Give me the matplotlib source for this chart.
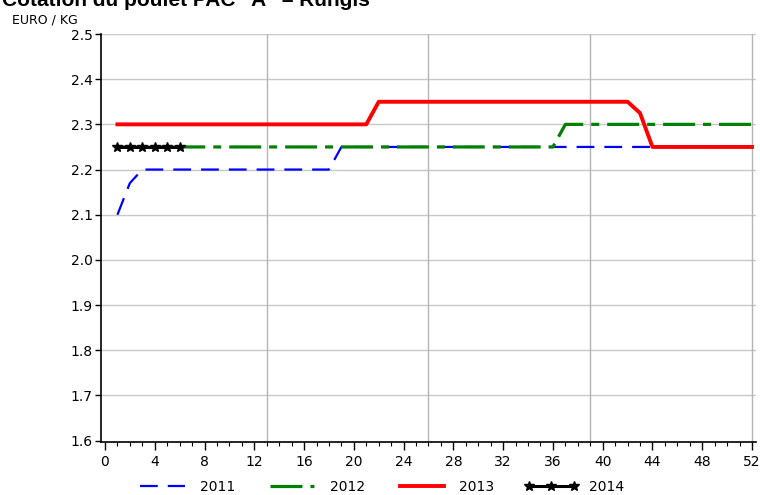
import matplotlib
matplotlib.use("Agg")
import matplotlib.pyplot as plt
from matplotlib.ticker import MultipleLocator

weeks = list(range(1, 53))
prix_2011 = [2.10, 2.17] + [2.20] * 16 + [2.25] * 34
prix_2012 = [2.25] * 36 + [2.30] * 16
prix_2013 = [2.30] * 21 + [2.35] * 21 + [2.325] + [2.25] * 9
weeks_2014 = [1, 2, 3, 4, 5, 6]
prix_2014 = [2.25] * 6

fig = plt.figure(figsize=(7.6, 4.95), dpi=100)
ax = fig.add_axes([101 / 760, 1 - 442 / 495, 655 / 760, 408 / 495])

# grille
for y in [1.7, 1.8, 1.9, 2.0, 2.1, 2.2, 2.3, 2.4, 2.5]:
    ax.axhline(y, color="#c8c8c8", lw=1, zorder=0)
for x in [13, 26, 39, 52]:
    ax.axvline(x, color="#b4b4b4", lw=1, zorder=0)

ax.plot(weeks, prix_2011, color="#0000ff", lw=1.6, dashes=(8, 4.5), label="2011", zorder=2)
ax.plot(weeks, prix_2012, color="#008000", lw=2.3, dashes=(10, 2.5, 2.5, 2.5), label="2012", zorder=3)
ax.plot(weeks, prix_2013, color="#ff0000", lw=2.8, label="2013", zorder=4)
ax.plot(weeks_2014, prix_2014, color="black", lw=2.2, marker="*", ms=7, label="2014", zorder=5)

ax.set_xlim(-0.32, 52.32)
ax.set_ylim(1.597, 2.5)
ax.xaxis.set_major_locator(MultipleLocator(4))
ax.xaxis.set_minor_locator(MultipleLocator(1))
ax.yaxis.set_major_locator(MultipleLocator(0.1))
ax.yaxis.set_major_formatter(matplotlib.ticker.FormatStrFormatter("%.1f"))
ax.tick_params(axis="x", which="major", length=6, width=1, labelsize=10, pad=3)
ax.tick_params(axis="x", which="minor", length=3, width=0.8)
ax.tick_params(axis="y", length=4, width=1, labelsize=10, pad=2)
for s in ["top", "right"]:
    ax.spines[s].set_visible(False)
for s in ["left", "bottom"]:
    ax.spines[s].set_linewidth(1.2)

fig.text(12 / 760, 1 - 20 / 495, "EURO / KG", fontsize=9, va="center", ha="left")
fig.text(2 / 760, 1 - 6 / 495, "Cotation du poulet PAC \"A\" \u2013 Rungis",
         fontsize=15, fontweight="bold", family=["Liberation Sans", "DejaVu Sans"],
         va="baseline", ha="left")

fig.legend(loc="center", bbox_to_anchor=(380 / 760, 1 - 487 / 495), ncol=4,
           frameon=False, fontsize=10, handlelength=3.8, columnspacing=2.2,
           handletextpad=0.8, borderaxespad=0, numpoints=3)

fig.savefig("out.png", dpi=100)
